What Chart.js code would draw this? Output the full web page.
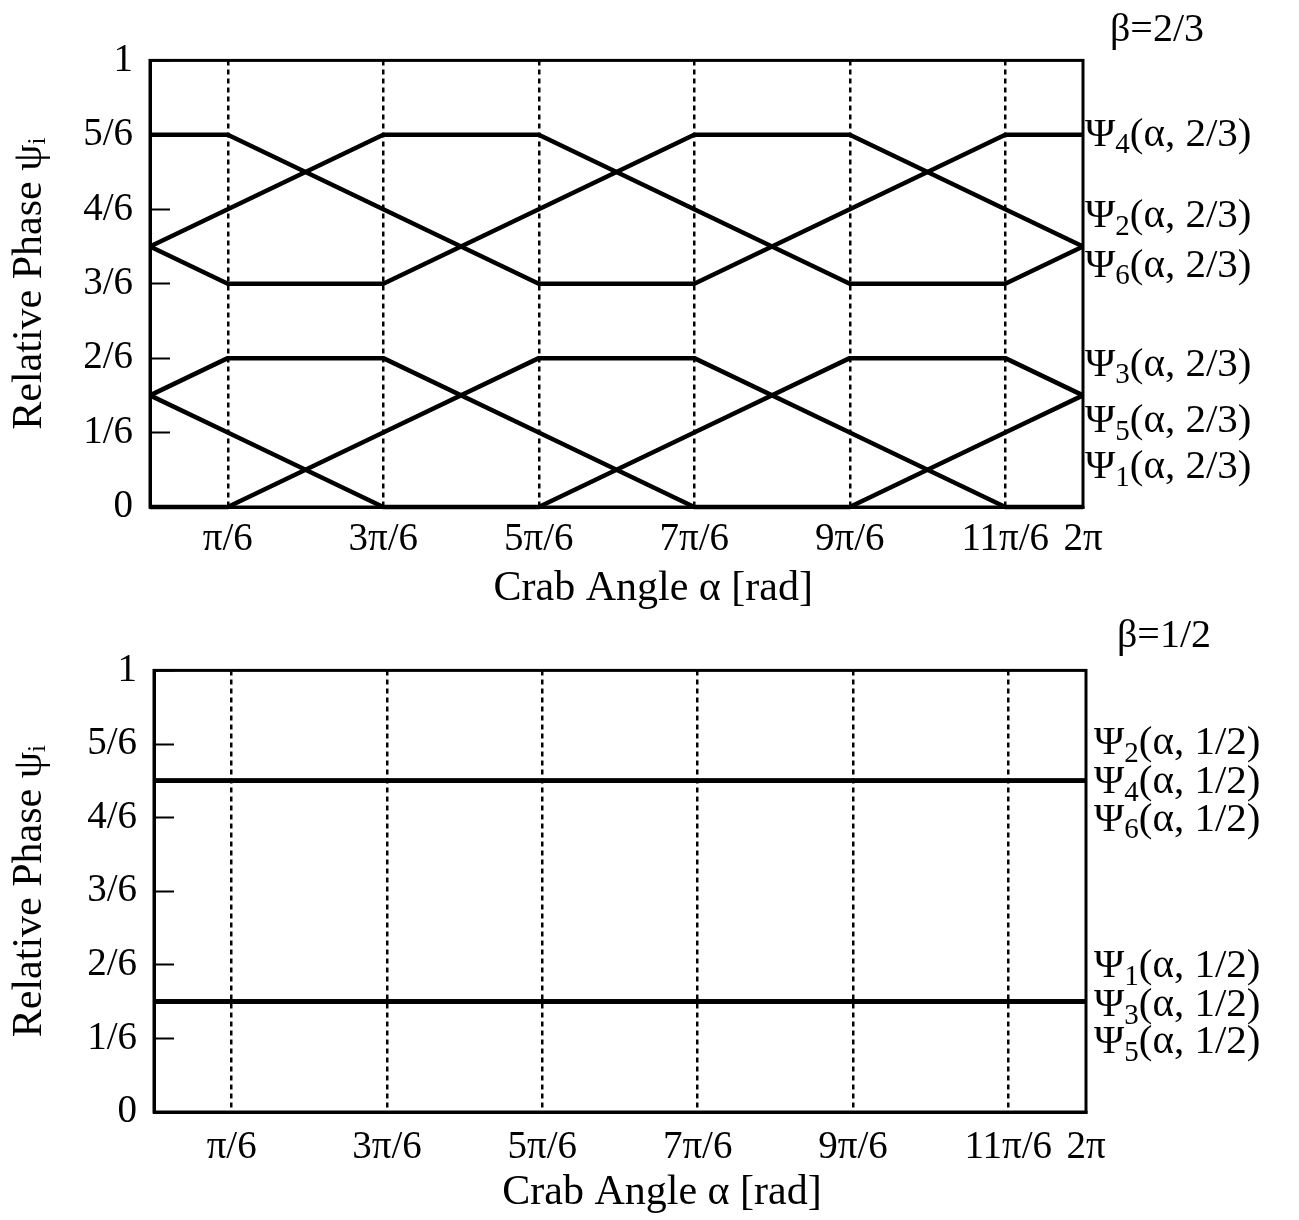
<!DOCTYPE html>
<html>
<head>
<meta charset="utf-8">
<script src="https://cdn.jsdelivr.net/npm/chart.js@4.4.0/dist/chart.umd.min.js"></script>
<style>
  html, body { margin: 0; padding: 0; background: #fff; }
  #wrap { position: relative; width: 1299px; height: 1220px; }
  canvas { position: absolute; left: 0; }
</style>
</head>
<body>
<div id="wrap">
  <canvas id="chartTop" width="1299" height="610" style="top:0"></canvas>
  <canvas id="chartBottom" width="1299" height="610" style="top:610px"></canvas>
</div>
<script>
/* ===================== DATA ===================== */
// x in units of pi/6, y in units of 1/6
const xTickValues = [1, 3, 5, 7, 9, 11, 12];
const xTickLabels = ['π/6', '3π/6', '5π/6', '7π/6', '9π/6', '11π/6', '2π'];
const yTickValues = [0, 1, 2, 3, 4, 5, 6];
const yTickLabels = ['0', '1/6', '2/6', '3/6', '4/6', '5/6', '1'];

// beta = 2/3 : break points of the crab angle
const alphaTop = [0, 1, 3, 5, 7, 9, 11, 12];
const psi1Top = [0, 0, 1, 2, 2, 1, 0, 0];
const psi2Top = [3.5, 3, 3, 4, 5, 5, 4, 3.5];
const psi3Top = [1.5, 1, 0, 0, 1, 2, 2, 1.5];
const psi4Top = [5, 5, 4, 3, 3, 4, 5, 5];
const psi5Top = [1.5, 2, 2, 1, 0, 0, 1, 1.5];
const psi6Top = [3.5, 4, 5, 5, 4, 3, 3, 3.5];

// beta = 1/2 : constant phases
const alphaBottom = [0, 12];
const psi1Bottom = [1.5, 1.5];
const psi2Bottom = [4.5, 4.5];
const psi3Bottom = [1.5, 1.5];
const psi4Bottom = [4.5, 4.5];
const psi5Bottom = [1.5, 1.5];
const psi6Bottom = [4.5, 4.5];

/* ===================== HELPERS ===================== */
const FONT = '"Liberation Serif", "Times New Roman", serif';
Chart.defaults.font.family = FONT;
Chart.defaults.color = '#000';

function toPoints(xs, ys) {
  return xs.map((x, i) => ({ x: x, y: ys[i] }));
}

function makeDatasets(xs, series) {
  return series.map(ys => ({
    data: toPoints(xs, ys),
    borderColor: '#000',
    borderWidth: 4.5,
    pointRadius: 0,
    tension: 0,
    borderJoinStyle: 'round',
    clip: 5
  }));
}

// frame, beta text and curve names on the right
const decorPlugin = {
  id: 'decor',
  afterDatasetsDraw(chart, args, opts) {
    const { ctx, chartArea: a } = chart;
    const y = chart.scales.y;
    ctx.save();
    ctx.strokeStyle = '#000';
    ctx.lineWidth = 3;
    ctx.strokeRect(a.left, a.top, a.right - a.left, a.bottom - a.top);

    ctx.fillStyle = '#000';
    ctx.textAlign = 'left';
    ctx.textBaseline = 'middle';
    ctx.font = '40px ' + FONT;
    ctx.fillText(opts.beta, a.right + opts.betaDx, opts.betaY);

    opts.names.forEach(n => {
      const py = y.getPixelForValue(n.at);
      let px = a.right + opts.nameDx;
      ctx.font = '41px ' + FONT;
      ctx.fillText('Ψ', px, py);
      px += ctx.measureText('Ψ').width;
      ctx.font = '29px ' + FONT;
      ctx.fillText(n.sub, px, py + 11);
      px += ctx.measureText(n.sub).width;
      ctx.font = '41px ' + FONT;
      ctx.fillText(n.arg, px, py);
    });
    ctx.restore();
  }
};

function makeChart(id, datasets, cfg) {
  return new Chart(document.getElementById(id), {
    type: 'line',
    data: { datasets: datasets },
    plugins: [decorPlugin],
    options: {
      responsive: false,
      animation: false,
      devicePixelRatio: 1,
      layout: { padding: { left: 0, top: cfg.top, right: cfg.right, bottom: 0 } },
      plugins: {
        legend: { display: false },
        tooltip: { enabled: false },
        decor: cfg.decor
      },
      scales: {
        x: {
          type: 'linear',
          min: 0,
          max: 12,
          afterBuildTicks: s => { s.ticks = xTickValues.map(v => ({ value: v })); },
          afterFit: s => { s.height = cfg.xHeight; },
          ticks: {
            autoSkip: false,
            maxRotation: 0,
            padding: cfg.xTickPad,
            font: { size: 39 },
            callback: v => xTickLabels[xTickValues.indexOf(v)]
          },
          grid: {
            drawTicks: false,
            color: c => (c.tick && c.tick.value === 12) ? 'rgba(0,0,0,0)' : '#000',
            lineWidth: 2.5
          },
          border: { display: true, color: '#000', width: 3, dash: [5, 4] },
          title: {
            display: true,
            text: cfg.xTitle,
            font: { size: 42, lineHeight: 1 },
            padding: { top: 0, bottom: cfg.xTitlePad }
          }
        },
        y: {
          type: 'linear',
          min: 0,
          max: 6,
          afterBuildTicks: s => { s.ticks = yTickValues.map(v => ({ value: v })); },
          afterFit: s => { s.width = cfg.yWidth; },
          ticks: {
            padding: 37,
            font: { size: 39 },
            callback: v => yTickLabels[yTickValues.indexOf(v)]
          },
          grid: {
            drawOnChartArea: false,
            drawTicks: true,
            tickLength: -20,
            tickWidth: 2,
            tickColor: '#000'
          },
          border: { display: true, color: '#000', width: 3 },
          title: {
            display: true,
            text: 'Relative Phase ψᵢ',
            font: { size: 42, lineHeight: 1 },
            padding: { top: 9, bottom: 0 }
          }
        }
      }
    }
  });
}

/* ===================== CHART - BETA 2/3 ===================== */
makeChart('chartTop',
  makeDatasets(alphaTop, [psi1Top, psi2Top, psi3Top, psi4Top, psi5Top, psi6Top]),
  {
    top: 55, right: 216, yWidth: 150, xHeight: 103, xTickPad: 9, xTitlePad: 0,
    xTitle: '       Crab Angle α [rad]',
    decor: {
      beta: 'β=2/3', betaDx: 27, betaY: 30, nameDx: 2,
      names: [
        { sub: '4', arg: '(α, 2/3)', at: 5.0 },
        { sub: '2', arg: '(α, 2/3)', at: 3.9 },
        { sub: '6', arg: '(α, 2/3)', at: 3.24 },
        { sub: '3', arg: '(α, 2/3)', at: 1.91 },
        { sub: '5', arg: '(α, 2/3)', at: 1.155 },
        { sub: '1', arg: '(α, 2/3)', at: 0.53 }
      ]
    }
  });

/* ===================== CHART - BETA 1/2 ===================== */
makeChart('chartBottom',
  makeDatasets(alphaBottom, [psi1Bottom, psi2Bottom, psi3Bottom, psi4Bottom, psi5Bottom, psi6Bottom]),
  {
    top: 48, right: 213, yWidth: 154, xHeight: 108, xTickPad: 12, xTitlePad: 6,
    xTitle: '        Crab Angle α [rad]',
    decor: {
      beta: 'β=1/2', betaDx: 31, betaY: 26, nameDx: 8,
      names: [
        { sub: '2', arg: '(α, 1/2)', at: 5.01 },
        { sub: '4', arg: '(α, 1/2)', at: 4.48 },
        { sub: '6', arg: '(α, 1/2)', at: 3.97 },
        { sub: '1', arg: '(α, 1/2)', at: 1.98 },
        { sub: '3', arg: '(α, 1/2)', at: 1.45 },
        { sub: '5', arg: '(α, 1/2)', at: 0.95 }
      ]
    }
  });
</script>
</body>
</html>
